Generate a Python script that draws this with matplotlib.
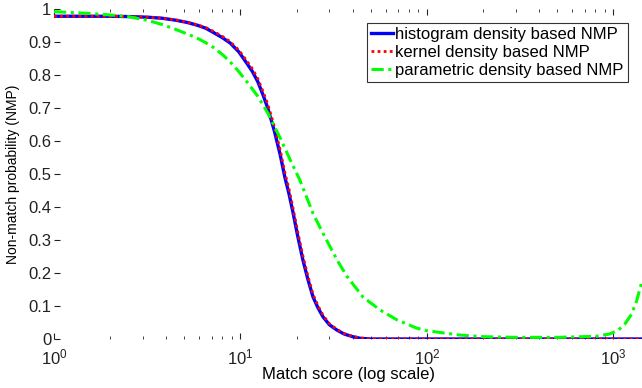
import numpy as np
import matplotlib
matplotlib.use('Agg')
import matplotlib.pyplot as plt

plt.rcParams['font.family'] = ['Liberation Sans', 'DejaVu Sans']
plt.rcParams['mathtext.fontset'] = 'custom'
plt.rcParams['mathtext.rm'] = 'Liberation Sans'

# histogram density based NMP
hist_score = [1, 1.5, 2, 2.56, 3.2, 3.8, 4.5, 5.2, 5.85, 6.5, 7.1, 8, 8.8, 9.8,
              10.8, 11.6, 12.4, 13.2, 14, 15.2, 16.3, 17.3, 18.2, 19.1, 20.3,
              21.6, 23, 24.5, 26, 27.7, 30, 32.9, 36, 40, 44, 50, 100, 1500]
hist_nmp = [0.978, 0.978, 0.978, 0.977, 0.975, 0.972, 0.966, 0.959, 0.951, 0.942,
            0.930, 0.913, 0.897, 0.870, 0.836, 0.810, 0.779, 0.740, 0.700, 0.630,
            0.560, 0.490, 0.440, 0.385, 0.310, 0.240, 0.180, 0.127, 0.095, 0.067,
            0.043, 0.027, 0.015, 0.007, 0.002, 0.0, 0.0, 0.0]

# kernel density based NMP
kern_score = [1, 1.5, 2, 2.56, 3.2, 3.8, 4.5, 5.2, 5.85, 6.5, 7.1, 8, 8.8, 9.8,
              10.8, 11.6, 12.4, 13.2, 14, 15.2, 16.3, 17.3, 18.2, 19.1, 20.3,
              21.6, 23, 24.5, 26, 27.7, 30, 32.9, 36, 40, 44, 50, 100, 1500]
kern_nmp = [0.978, 0.978, 0.978, 0.977, 0.975, 0.972, 0.967, 0.960, 0.952, 0.944,
            0.933, 0.917, 0.901, 0.875, 0.843, 0.818, 0.788, 0.750, 0.712, 0.643,
            0.574, 0.504, 0.454, 0.398, 0.323, 0.252, 0.190, 0.135, 0.101, 0.072,
            0.046, 0.029, 0.016, 0.008, 0.003, 0.0, 0.0, 0.0]

# parametric density based NMP
param_score = [1, 1.5, 2, 2.56, 3.2, 3.8, 4.5, 5.2, 5.85, 6.5, 7.1, 8, 8.8, 9.8,
               10.8, 12.4, 14, 16.3, 18.4, 20.8, 24.5, 27.7, 30.2, 33.3, 37.2,
               45.4, 56, 69, 88, 100, 150, 200, 300, 500, 800, 950, 1050, 1150,
               1250, 1330, 1422]
param_nmp = [0.992, 0.987, 0.982, 0.976, 0.965, 0.953, 0.938, 0.924, 0.912, 0.898,
             0.885, 0.862, 0.840, 0.810, 0.780, 0.735, 0.685, 0.610, 0.545, 0.482,
             0.380, 0.320, 0.280, 0.235, 0.190, 0.127, 0.088, 0.058, 0.033, 0.025,
             0.012, 0.007, 0.005, 0.005, 0.008, 0.015, 0.025, 0.045, 0.075, 0.115,
             0.175]

y_ticks = [0, 0.1, 0.2, 0.3, 0.4, 0.5, 0.6, 0.7, 0.8, 0.9, 1]
y_tick_labels = ['0', '0.1', '0.2', '0.3', '0.4', '0.5', '0.6', '0.7', '0.8', '0.9', '1']

fig = plt.figure(figsize=(6.42, 3.88), dpi=100)
ax = fig.add_axes([54 / 642, 49 / 388, 588 / 642, 330 / 388])

ax.plot(hist_score, hist_nmp, color='#0000FF', lw=2.4, ls='-',
        label='histogram density based NMP')
ax.plot(kern_score, kern_nmp, color='#FF0000', lw=2.0, ls=(0, (1, 1.2)),
        label='kernel density based NMP')
ax.plot(param_score, param_nmp, color='#00FF00', lw=2.2, ls=(0, (4, 1.5, 1, 1.5)),
        label='parametric density based NMP')

ax.set_xscale('log')
ax.set_xlim(1, 1422)
ax.set_ylim(0, 1)
ax.set_yticks(y_ticks)
ax.set_yticklabels(y_tick_labels)

for s in ax.spines.values():
    s.set_visible(False)
ax.tick_params(which='both', direction='in', top=True, right=False,
               labelsize=12, colors='#222222', pad=2)
ax.tick_params(which='major', length=4, width=0.8)
ax.tick_params(which='minor', length=2.5, width=0.6)
ax.tick_params(axis='x', pad=6)

ax.set_xlabel('Match score (log scale)', fontsize=12)
ax.set_ylabel('Non-match probability (NMP)', fontsize=10)
ax.xaxis.set_label_coords(0.5, -0.085)
ax.yaxis.set_label_coords(-0.058, 0.5)

leg = ax.legend(loc='upper right', bbox_to_anchor=(0.976, 0.958), fontsize=12,
                frameon=True, fancybox=False, handlelength=1.3, handletextpad=0.15,
                borderpad=0.25, labelspacing=0.18, borderaxespad=0)
leg.get_frame().set_edgecolor('black')
leg.get_frame().set_linewidth(0.8)

fig.savefig('out.png', dpi=100)
